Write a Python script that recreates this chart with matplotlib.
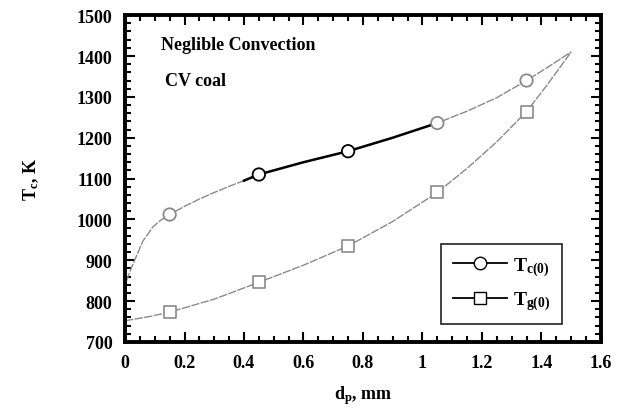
import matplotlib
matplotlib.use("Agg")
import matplotlib.pyplot as plt
from matplotlib.ticker import MultipleLocator
from matplotlib.lines import Line2D

# Data points (markers)
d_pts = [0.15, 0.45, 0.75, 1.05, 1.35]
tc_pts = [1012, 1110, 1167, 1236, 1340]
tg_pts = [773, 846, 935, 1066, 1264]

# Fitted curves
tc_curve_x = [0.005, 0.02, 0.034, 0.06, 0.094, 0.12, 0.15, 0.20, 0.25, 0.30, 0.35, 0.40, 0.45,
              0.60, 0.75, 0.90, 1.05, 1.15, 1.25, 1.35, 1.42, 1.50]
tc_curve_y = [850, 879, 903, 947, 982, 998, 1012, 1032, 1050, 1066, 1081, 1095, 1110,
              1140, 1167, 1200, 1236, 1265, 1298, 1340, 1372, 1410]
tg_curve_x = [0.0, 0.08, 0.15, 0.30, 0.45, 0.60, 0.75, 0.90, 1.05, 1.15, 1.25, 1.35, 1.42, 1.50]
tg_curve_y = [752, 762, 773, 805, 846, 888, 935, 995, 1066, 1125, 1190, 1264, 1330, 1410]

# black highlighted portion of T_c curve
tc_dark_x = [0.40, 0.45, 0.60, 0.75, 0.90, 1.05]
tc_dark_y = [1095, 1110, 1140, 1167, 1200, 1236]

plt.rcParams['font.family'] = ['Liberation Serif', 'DejaVu Serif']
plt.rcParams['font.weight'] = 'bold'
plt.rcParams['mathtext.fontset'] = 'custom'
plt.rcParams['mathtext.rm'] = 'Liberation Serif:bold'
plt.rcParams['mathtext.it'] = 'Liberation Serif:bold'
plt.rcParams['mathtext.bf'] = 'Liberation Serif:bold'

fig = plt.figure(figsize=(6.27, 4.14), dpi=100)
ax = fig.add_axes([0.1994, 0.1715, 0.759, 0.7895])

gray = '#8a8a8a'
ax.plot(tc_curve_x, tc_curve_y, color=gray, lw=1.0, ls=(0, (6, 1)))
ax.plot(tg_curve_x, tg_curve_y, color=gray, lw=1.0, ls=(0, (6, 1)))
ax.plot(tc_dark_x, tc_dark_y, color='black', lw=1.8)

tc_edge = [gray, 'black', 'black', gray, gray]
ax.scatter(d_pts, tc_pts, marker='o', s=80, facecolors='white', edgecolors=tc_edge, linewidths=1.3, zorder=3)
ax.scatter(d_pts, tg_pts, marker='s', s=80, facecolors='white', edgecolors=gray, linewidths=1.2, zorder=3)

ax.set_xlim(0, 1.6)
ax.set_ylim(700, 1500)
ax.xaxis.set_minor_locator(MultipleLocator(0.05))
ax.yaxis.set_major_locator(MultipleLocator(100))
ax.yaxis.set_minor_locator(MultipleLocator(20))
ax.set_xticks([0, 0.2, 0.4, 0.6, 0.8, 1.0, 1.2, 1.4, 1.6])
ax.set_xticklabels(['0', '0.2', '0.4', '0.6', '0.8', '1', '1.2', '1.4', '1.6'])
ax.tick_params(which='both', direction='in', top=True, right=True, labelsize=13, width=1.5)
ax.tick_params(which='major', length=7, pad=9)
ax.tick_params(which='minor', length=4)
for lab in ax.get_xticklabels() + ax.get_yticklabels():
    lab.set_fontweight('bold')
for s in ax.spines.values():
    s.set_linewidth(2.8)

ax.set_xlabel(r'd$_\mathregular{p}$, mm', fontsize=13, fontweight='bold', labelpad=8)
ax.set_ylabel(r'T$_\mathregular{c}$, K', fontsize=13, fontweight='bold', labelpad=26)

ax.text(0.075, 0.895, 'Neglible Convection', transform=ax.transAxes, fontsize=13, fontweight='bold')
ax.text(0.085, 0.785, 'CV coal', transform=ax.transAxes, fontsize=13, fontweight='bold')

handles = [Line2D([], [], color='black', lw=1.3, marker='o', ms=9, mfc='white', mec='black'),
           Line2D([], [], color='black', lw=1.3, marker='s', ms=9, mfc='white', mec='black')]
labels = [r'T$_\mathregular{c(0)}$', r'T$_\mathregular{g(0)}$']
leg = ax.legend(handles, labels, loc='lower right', bbox_to_anchor=(0.918, 0.055),
                borderaxespad=0, fontsize=14, frameon=True, fancybox=False, edgecolor='black',
                handlelength=2.8, borderpad=0.6, labelspacing=0.6, handletextpad=0.3)
leg.get_frame().set_linewidth(1.3)

fig.savefig('out.png', dpi=100)
